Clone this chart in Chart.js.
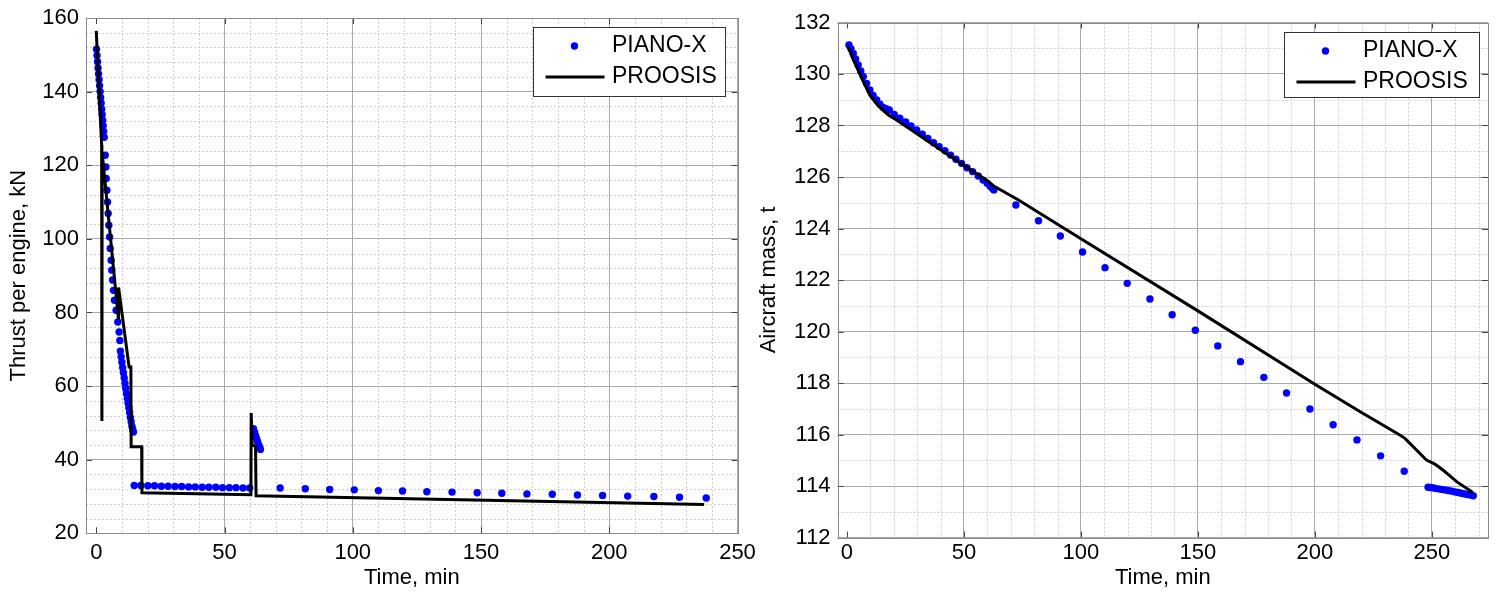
<!DOCTYPE html>
<html>
<head>
<meta charset="utf-8">
<title>Thrust and aircraft mass</title>
<script src="https://cdn.jsdelivr.net/npm/chart.js@4.4.1/dist/chart.umd.min.js"></script>
<style>
	html, body { margin: 0; padding: 0; background: #fff; }
	#wrap { position: relative; width: 1498px; height: 600px; overflow: hidden; }
	canvas { position: absolute; top: 0; }
	#thrustChart { left: 0; z-index: 1; }
	#massChart { left: 750px; z-index: 2; }
</style>
</head>
<body>
<div id="wrap">
	<canvas id="thrustChart" width="780" height="600"></canvas>
	<canvas id="massChart" width="748" height="600"></canvas>
</div>
<script>
// ---- Thrust per engine (left) ----
const thrustPianoTime = [
	0.1, 0.3, 0.5, 0.7, 0.9, 1.1, 1.3, 1.5, 1.7, 1.9, 2.1, 2.3, 2.5, 2.7, 2.9, 3.1,
	3.5, 3.75, 3.9, 4.15, 4.4, 4.65, 4.9, 5.2, 5.45, 5.8, 6.05, 6.35, 6.7, 7.1, 7.75, 8.4, 8.9, 9.2,
	9.4, 9.7, 10.0, 10.3, 10.6, 10.9, 11.2, 11.5, 11.8, 12.1, 12.4, 12.7, 13.0, 13.3, 13.6, 13.9, 14.2, 14.5,
	14.8, 17.4, 20.1, 22.7, 25.4, 28.0, 30.7, 33.3, 36.0, 38.6, 41.3, 43.9, 46.6, 49.2, 51.9, 54.5, 57.2, 59.8,
	61.3, 61.7, 62.1, 62.5, 62.9, 63.3, 63.7, 64.0,
	71.7, 81.5, 91.0, 100.6, 110.0, 119.4, 128.9, 138.7, 148.5, 158.1, 167.9, 177.8, 187.6, 197.4, 207.2, 217.4, 227.4, 237.8
];
const thrustPianoKN = [
	151.5, 149.8, 148.1, 146.4, 144.8, 143.2, 141.6, 140.0, 138.4, 136.9, 135.3, 133.8, 132.2, 130.7, 129.2, 127.6,
	122.7, 119.5, 116.4, 113.2, 110.0, 106.9, 103.7, 100.5, 97.4, 94.2, 91.5, 88.8, 86.0, 83.3, 80.6, 77.4, 74.7, 72.4,
	69.5, 68.0, 66.5, 65.0, 63.6, 62.2, 60.8, 59.4, 58.0, 56.7, 55.4, 54.1, 52.8, 51.5, 50.3, 49.1, 48.2, 47.5,
	33.0, 33.0, 32.9, 32.9, 32.8, 32.8, 32.7, 32.7, 32.6, 32.6, 32.5, 32.5, 32.5, 32.4, 32.4, 32.4, 32.3, 32.3,
	48.4, 47.5, 46.6, 45.7, 44.9, 44.1, 43.4, 42.8,
	32.3, 32.1, 31.9, 31.8, 31.6, 31.5, 31.3, 31.2, 31.0, 30.9, 30.7, 30.6, 30.4, 30.3, 30.1, 30.0, 29.8, 29.6
];
const thrustProosisTime = [0.0, 2.1, 2.2, 2.3, 8.6, 8.7, 12.8, 13.5, 13.6, 17.7, 17.8, 60.3, 60.4, 60.8, 62.1, 62.3, 237.0];
const thrustProosisKN = [156.5, 125.5, 50.5, 123.5, 78.5, 86.8, 65.2, 65.2, 43.5, 43.5, 31.0, 30.5, 52.7, 44.0, 43.6, 30.2, 27.8];
const thrustTicks = [20, 40, 60, 80, 100, 120, 140, 160];
const thrustTimeTicks = [0, 50, 100, 150, 200, 250];

// ---- Aircraft mass (right) ----
const massPianoTime = [
	0.85, 1.7, 2.7, 3.7, 4.8, 5.9, 7.0, 8.4, 9.8, 11.2, 12.7, 14.1, 15.5, 16.8,
	18.1, 20.2, 22.6, 25.1, 27.4, 29.8, 32.2, 34.6, 37.0, 39.4, 41.9, 44.3, 46.6, 49.0, 51.3, 53.7, 56.1, 58.2, 59.9, 61.1, 62.1, 62.8,
	72.2, 81.9, 91.2, 100.7, 110.3, 119.8, 129.5, 139.0, 148.9, 158.5, 168.2, 178.2, 187.9, 197.9, 207.8, 218.0, 228.1, 238.2,
	248.4, 249.5, 250.8, 252.1, 253.4, 254.7, 256.0, 257.3, 258.6, 259.9, 261.2, 262.5, 263.8, 265.1, 266.4, 267.7
];
const massPianoT = [
	131.13, 130.98, 130.80, 130.58, 130.35, 130.12, 129.90, 129.63, 129.38, 129.17, 128.99, 128.83, 128.70, 128.65,
	128.60, 128.43, 128.28, 128.14, 127.98, 127.83, 127.66, 127.50, 127.33, 127.18, 127.02, 126.85, 126.69, 126.53, 126.36, 126.21, 126.04, 125.88, 125.76, 125.65, 125.56, 125.50,
	124.91, 124.30, 123.71, 123.09, 122.48, 121.87, 121.26, 120.65, 120.05, 119.44, 118.83, 118.22, 117.61, 116.99, 116.38, 115.79, 115.17, 114.57,
	113.95, 113.94, 113.92, 113.90, 113.88, 113.86, 113.84, 113.82, 113.80, 113.77, 113.75, 113.72, 113.70, 113.67, 113.65, 113.62
];
const massProosisTime = [0.6, 2.2, 4.1, 7.0, 9.8, 13.4, 17.7, 21.2, 49.7, 59.7, 62.6, 73.3, 100, 150, 200, 219.2, 236.3, 238.5, 247.7, 251.3, 255.0, 260.6, 267.5];
const massProosisT = [131.06, 130.66, 130.28, 129.70, 129.18, 128.76, 128.41, 128.21, 126.47, 125.88, 125.66, 125.11, 123.60, 120.80, 117.95, 116.89, 115.98, 115.85, 115.01, 114.85, 114.60, 114.17, 113.75];
const massTicks = [112, 114, 116, 118, 120, 122, 124, 126, 128, 130, 132];
const massTimeTicks = [0, 50, 100, 150, 200, 250];

const FONT = "'Liberation Sans', Arial, sans-serif";

function toPoints(xs, ys) {
	return xs.map((x, i) => ({ x: x, y: ys[i] }));
}

// Matlab style: dotted minor grid, grey box with inward ticks, boxed legend
const matlabAxes = {
	id: "matlabAxes",
	beforeDraw(chart, args, opts) {
		const { ctx, chartArea: a, scales } = chart;
		const x = scales.x, y = scales.y;
		ctx.save();
		ctx.strokeStyle = "#cfcfcf";
		ctx.lineWidth = 1;
		ctx.setLineDash([2, 2]);
		ctx.beginPath();
		for (let i = 1; i * opts.xMinor < x.max; i++) {
			const v = i * opts.xMinor;
			if (v % opts.xMajor === 0) continue;
			const px = Math.round(x.getPixelForValue(v)) + 0.5;
			ctx.moveTo(px, a.top);
			ctx.lineTo(px, a.bottom);
		}
		for (let i = 1; y.min + i * opts.yMinor < y.max; i++) {
			const v = y.min + i * opts.yMinor;
			if ((v - y.min) % opts.yMajor === 0) continue;
			const py = Math.round(y.getPixelForValue(v)) + 0.5;
			ctx.moveTo(a.left, py);
			ctx.lineTo(a.right, py);
		}
		ctx.stroke();
		ctx.restore();
	},
	afterDraw(chart, args, opts) {
		const { ctx, chartArea: a, scales } = chart;
		const x = scales.x, y = scales.y;
		ctx.save();
		// ticks
		ctx.strokeStyle = "#444";
		ctx.lineWidth = 1;
		ctx.beginPath();
		x.ticks.forEach((t) => {
			const px = Math.round(x.getPixelForValue(t.value)) + 0.5;
			ctx.moveTo(px, a.bottom);
			ctx.lineTo(px, a.bottom - 6);
			ctx.moveTo(px, a.top);
			ctx.lineTo(px, a.top + 6);
		});
		y.ticks.forEach((t) => {
			const py = Math.round(y.getPixelForValue(t.value)) + 0.5;
			ctx.moveTo(a.left, py);
			ctx.lineTo(a.left + 6, py);
			ctx.moveTo(a.right, py);
			ctx.lineTo(a.right - 6, py);
		});
		ctx.stroke();
		// box
		ctx.strokeStyle = "#8a8a8a";
		ctx.strokeRect(Math.round(a.left) + 0.5, Math.round(a.top) + 0.5, Math.round(a.right - a.left), Math.round(a.bottom - a.top));

		// legend
		const b = opts.legendBox;
		ctx.fillStyle = "#fff";
		ctx.fillRect(b.x, b.y, b.w, b.h);
		ctx.strokeStyle = "#333";
		ctx.strokeRect(b.x + 0.5, b.y + 0.5, b.w, b.h);
		const dots = chart.data.datasets[1], line = chart.data.datasets[0];
		ctx.fillStyle = dots.backgroundColor;
		ctx.beginPath();
		ctx.arc(b.x + 41.5, b.y + 19, 3.7, 0, Math.PI * 2);
		ctx.fill();
		ctx.strokeStyle = line.borderColor;
		ctx.lineWidth = line.borderWidth;
		ctx.beginPath();
		ctx.moveTo(b.x + 12.5, b.y + 50);
		ctx.lineTo(b.x + 71.5, b.y + 50);
		ctx.stroke();
		ctx.fillStyle = "#000";
		ctx.font = "23px " + FONT;
		ctx.textBaseline = "middle";
		ctx.textAlign = "left";
		ctx.fillText(dots.label, b.x + 79, b.y + 19);
		ctx.fillText(line.label, b.x + 79, b.y + 50);
		ctx.restore();
	}
};

function buildChart(id, cfg) {
	const tickFont = { family: FONT, size: 22 };
	return new Chart(document.getElementById(id), {
		type: "scatter",
		data: {
			datasets: [
				{
					label: "PROOSIS",
					data: cfg.lineData,
					showLine: true,
					borderColor: "#000000",
					borderWidth: 3,
					pointRadius: 0,
					pointHoverRadius: 0,
					order: 1,
				},
				{
					label: "PIANO-X",
					data: cfg.dotData,
					showLine: false,
					backgroundColor: "#0000ff",
					borderWidth: 0,
					pointRadius: 3.7,
					order: 2,
				},
			],
		},
		plugins: [matlabAxes],
		options: {
			responsive: false,
			animation: false,
			devicePixelRatio: 1,
			layout: { padding: cfg.padding },
			plugins: {
				legend: { display: false },
				tooltip: { enabled: false },
				matlabAxes: {
					xMinor: 10,
					xMajor: 50,
					yMinor: cfg.yMinor,
					yMajor: cfg.yMajor,
					legendBox: cfg.legendBox,
				},
			},
			scales: {
				x: {
					type: "linear",
					min: cfg.xMin,
					max: cfg.xMax,
					afterBuildTicks: (s) => {
						s.ticks = cfg.xTicks.map((v) => ({ value: v }));
					},
					afterFit: (s) => {
						s.height = cfg.xHeight;
						s.paddingLeft = 0;
						s.paddingRight = 0;
					},
					grid: {
						color: (c) => (c.tick && c.tick.value === 0 ? "rgba(0,0,0,0)" : "#a9a9a9"),
						drawTicks: false,
						lineWidth: 1,
					},
					border: { display: false },
					ticks: { color: "#000", font: tickFont, padding: cfg.xLabelPad, maxRotation: 0, autoSkip: false },
					title: { display: true, text: "Time, min", color: "#000", font: tickFont, padding: { top: 0, bottom: 9 } },
				},
				y: {
					type: "linear",
					min: cfg.yMin,
					max: cfg.yMax,
					afterBuildTicks: (s) => {
						s.ticks = cfg.yTicks.map((v) => ({ value: v }));
					},
					afterFit: (s) => {
						s.width = cfg.yWidth;
						s.paddingTop = 0;
						s.paddingBottom = 0;
					},
					grid: { color: "#a9a9a9", drawTicks: false, lineWidth: 1 },
					border: { display: false },
					ticks: { color: "#000", font: tickFont, padding: 7, autoSkip: false },
					title: { display: true, text: cfg.yTitle, color: "#000", font: tickFont, padding: { top: 6, bottom: 0 } },
				},
			},
		},
	});
}

buildChart("thrustChart", {
	lineData: toPoints(thrustProosisTime, thrustProosisKN),
	dotData: toPoints(thrustPianoTime, thrustPianoKN),
	xMin: -4, xMax: 250, yMin: 20, yMax: 160,
	xTicks: thrustTimeTicks, yTicks: thrustTicks,
	yMinor: 4, yMajor: 20,
	yTitle: "Thrust per engine, kN",
	padding: { left: 0, right: 42.5, top: 18, bottom: 0 },
	yWidth: 86, xHeight: 66.7, xLabelPad: 6,
	legendBox: { x: 533, y: 27, w: 192, h: 69 },
});

buildChart("massChart", {
	lineData: toPoints(massProosisTime, massProosisT),
	dotData: toPoints(massPianoTime, massPianoT),
	xMin: -4, xMax: 274, yMin: 112, yMax: 132,
	xTicks: massTimeTicks, yTicks: massTicks,
	yMinor: 1, yMajor: 2,
	yTitle: "Aircraft mass, t",
	padding: { left: 0, right: 10, top: 22.5, bottom: 0 },
	yWidth: 87.6, xHeight: 62.5, xLabelPad: 2,
	legendBox: { x: 534, y: 32, w: 195, h: 65 },
});
</script>
</body>
</html>
